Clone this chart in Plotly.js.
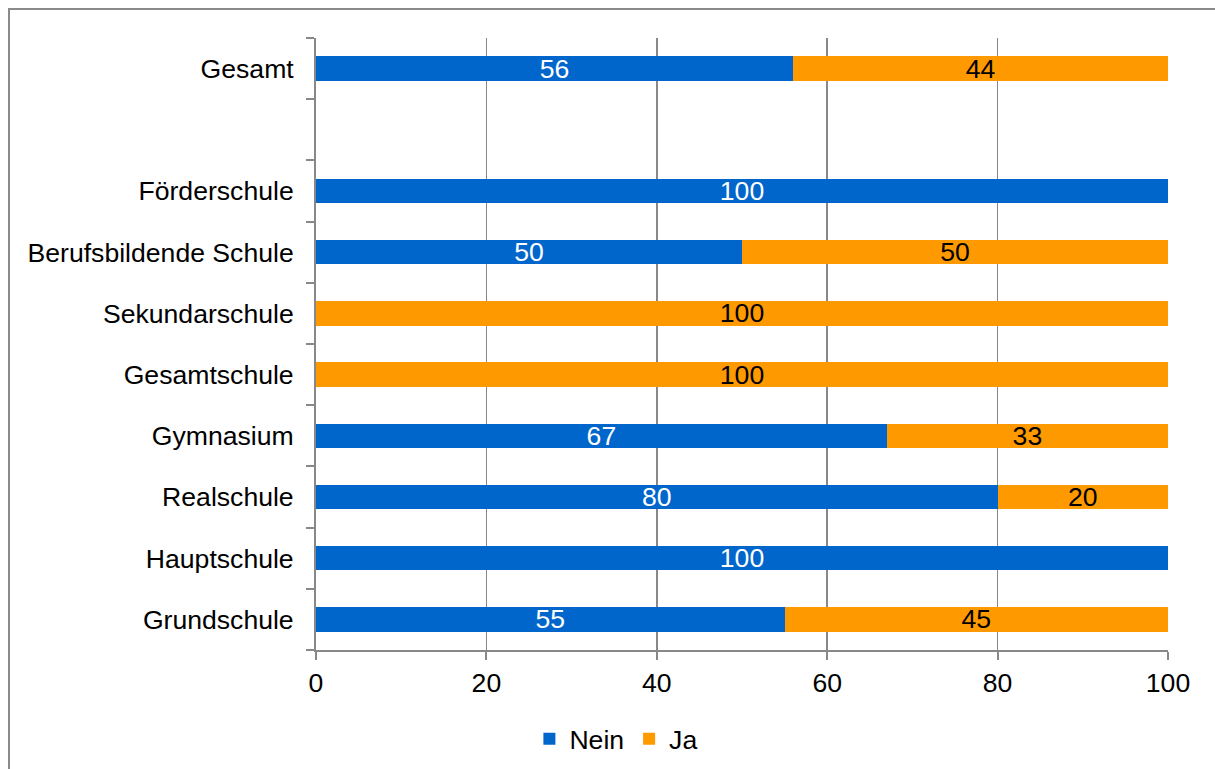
<!DOCTYPE html>
<html>
<head>
<meta charset="utf-8">
<script src="https://cdn.plot.ly/plotly-3.0.1.min.js"></script>
<style>
  html, body { margin: 0; padding: 0; background: #fff; }
  #wrap { position: relative; width: 1215px; height: 769px; overflow: hidden; }
  #chart { position: absolute; left: 0; top: 0; width: 1215px; height: 769px; }
  #frame { position: absolute; left: 8px; top: 8px; width: 1300px; height: 900px;
           border-left: 2px solid #8a8a8a; border-top: 2px solid #8a8a8a; pointer-events: none; }
</style>
</head>
<body>
<div id="wrap">
  <div id="chart"></div>
  <div id="frame"></div>
</div>
<script>
// Categories listed bottom to top; " " is the empty spacer slot
const categories = ["Grundschule", "Hauptschule", "Realschule", "Gymnasium", "Gesamtschule",
                    "Sekundarschule", "Berufsbildende Schule", "Förderschule", " ", "Gesamt"];
const nein = [55, 100, 80, 67, 0, 0, 50, 100, null, 56];
const ja   = [45, 0, 20, 33, 100, 100, 50, 0, null, 44];
const xTicks = [0, 20, 40, 60, 80, 100];

const FONT = '"Liberation Sans", Arial, sans-serif';
const FS = 26.6;
const lbl = arr => arr.map(v => (v ? String(v) : ''));

const traces = [
  {
    type: 'bar', orientation: 'h', name: 'Nein',
    y: categories, x: nein, text: lbl(nein),
    textposition: 'inside', insidetextanchor: 'middle', constraintext: 'none', textangle: 0,
    textfont: { color: '#ffffff', size: FS, family: FONT },
    marker: { color: '#0066CC' }, hoverinfo: 'x+y'
  },
  {
    type: 'bar', orientation: 'h', name: 'Ja',
    y: categories, x: ja, text: lbl(ja),
    textposition: 'inside', insidetextanchor: 'middle', constraintext: 'none', textangle: 0,
    textfont: { color: '#000000', size: FS, family: FONT },
    marker: { color: '#FF9900' }, hoverinfo: 'x+y'
  }
];

const layout = {
  width: 1215, height: 769,
  margin: { l: 316, r: 47, t: 38, b: 119, autoexpand: false },
  paper_bgcolor: '#ffffff', plot_bgcolor: '#ffffff',
  barmode: 'stack', bargap: 0.6,
  font: { family: FONT, size: FS, color: '#000000' },
  xaxis: {
    range: [0, 100], tickvals: xTicks, ticktext: xTicks.map(String),
    showgrid: true, gridcolor: '#888888', gridwidth: 1.5,
    zeroline: false, showline: true, linecolor: '#888888', linewidth: 2,
    ticks: 'outside', ticklen: 8, tickcolor: '#888888', tickwidth: 2,
    tickfont: { size: FS, family: FONT, color: '#000' }, fixedrange: true, automargin: false
  },
  yaxis: {
    type: 'category', categoryorder: 'array', categoryarray: categories,
    range: [-0.5, categories.length - 0.5],
    tickson: 'boundaries', ticks: 'outside', ticklen: 8, tickcolor: '#888888', tickwidth: 2,
    showgrid: false, showline: true, linecolor: '#888888', linewidth: 2, zeroline: false,
    tickfont: { size: FS, family: FONT, color: '#000' }, ticklabelstandoff: 15,
    fixedrange: true, automargin: false
  },
  showlegend: true,
  legend: {
    orientation: 'h', x: 0.352, xanchor: 'center', y: -0.106, yanchor: 'top',
    font: { size: FS, family: FONT, color: '#000' }, traceorder: 'normal',
    itemwidth: 30, bgcolor: 'rgba(0,0,0,0)'
  }
};

Plotly.newPlot('chart', traces, layout, { displayModeBar: false, staticPlot: true });
</script>
</body>
</html>
